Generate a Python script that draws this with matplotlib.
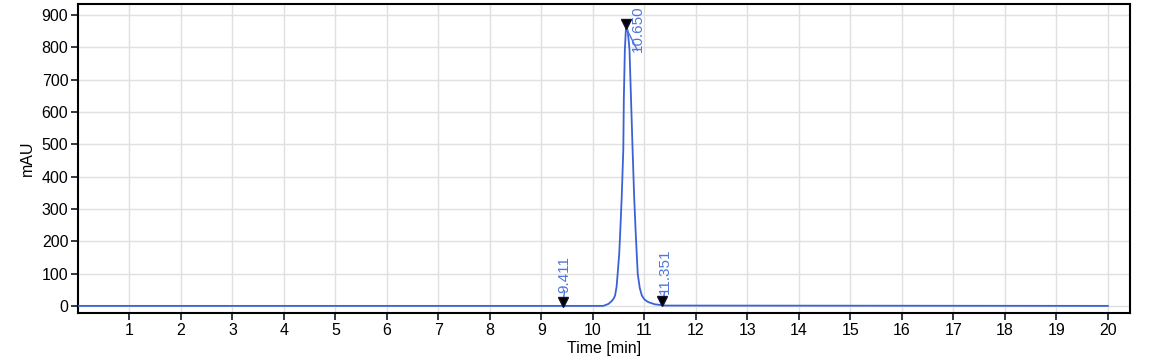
import matplotlib
matplotlib.use("Agg")
import matplotlib.pyplot as plt
import matplotlib.transforms as mtransforms
import numpy as np

# Chromatogram trace (time [min], signal [mAU])
time_min = [0.0, 10.20, 10.30, 10.36, 10.40, 10.43, 10.46, 10.48, 10.51, 10.53, 10.56,
            10.59, 10.60, 10.62, 10.64, 10.66, 10.68, 10.71, 10.74, 10.77, 10.80,
            10.83, 10.87, 10.91, 10.95, 11.00, 11.07, 11.20, 11.40, 20.0]
signal_mau = [0.0, 0.0, 6, 14, 22, 32, 60, 99, 160, 228, 340,
              485, 639, 793, 855, 862, 845, 793, 639, 485, 340,
              228, 99, 55, 32, 20, 12, 5, 1, 0.0]

# Integration markers (retention times)
peak_times = [9.411, 10.650, 11.351]
peak_labels = ["9.411", "10.650", "11.351"]

x_ticks = list(range(1, 21))
y_ticks = list(range(0, 1000, 100))

line_color = "#3a62d6"
text_color = "#4f76dc"

plt.rcParams['font.family'] = ['Liberation Sans', 'DejaVu Sans']

fig = plt.figure(figsize=(11.57, 3.63), dpi=100)
ax = fig.add_axes([78 / 1157, 1 - 313 / 363, (1130 - 78) / 1157, (313 - 4) / 363])

ax.set_xlim(0, 20.43)
ax.set_ylim(-22, 934)
ax.set_xticks(x_ticks)
ax.set_yticks(y_ticks)
ax.grid(True, color="#e0e0e0", linewidth=1.0)
ax.set_axisbelow(True)

ax.plot(time_min, signal_mau, color=line_color, linewidth=1.3, zorder=3)

for s in ax.spines.values():
    s.set_linewidth(1.5)
    s.set_color("black")

ax.tick_params(axis="both", direction="out", length=5, width=1.3, color="#1e2b3a",
               labelsize=11.5, labelcolor="black", pad=2)
ax.set_xlabel("Time [min]", fontsize=11.5, labelpad=2)
ax.set_ylabel("mAU", fontsize=11.5, labelpad=5)

# markers and labels
marker_y = np.interp(peak_times, time_min, signal_mau)
offset = mtransforms.ScaledTranslation(0, 4 / 100, fig.dpi_scale_trans)
ax.plot(peak_times, marker_y, linestyle="none", marker="v", markersize=7.5,
        color="black", markeredgecolor="#111133", zorder=5,
        transform=ax.transData + offset, clip_on=False)

label_offsets = [(2, 13), (11, -24), (2, 11)]
for t, yv, lab, (dx, dy) in zip(peak_times, marker_y, peak_labels, label_offsets):
    ax.annotate("", xy=(t, yv), xytext=(dx, dy + 2), textcoords="offset pixels",
                arrowprops=dict(arrowstyle="-", color=text_color, lw=1.0,
                                shrinkA=0, shrinkB=0), zorder=4)
    ax.annotate(lab, xy=(t, yv), xytext=(dx, dy), textcoords="offset pixels",
                rotation=90, ha="center", va="bottom", color=text_color,
                fontsize=11, zorder=4)

fig.savefig("out.png", dpi=100)
